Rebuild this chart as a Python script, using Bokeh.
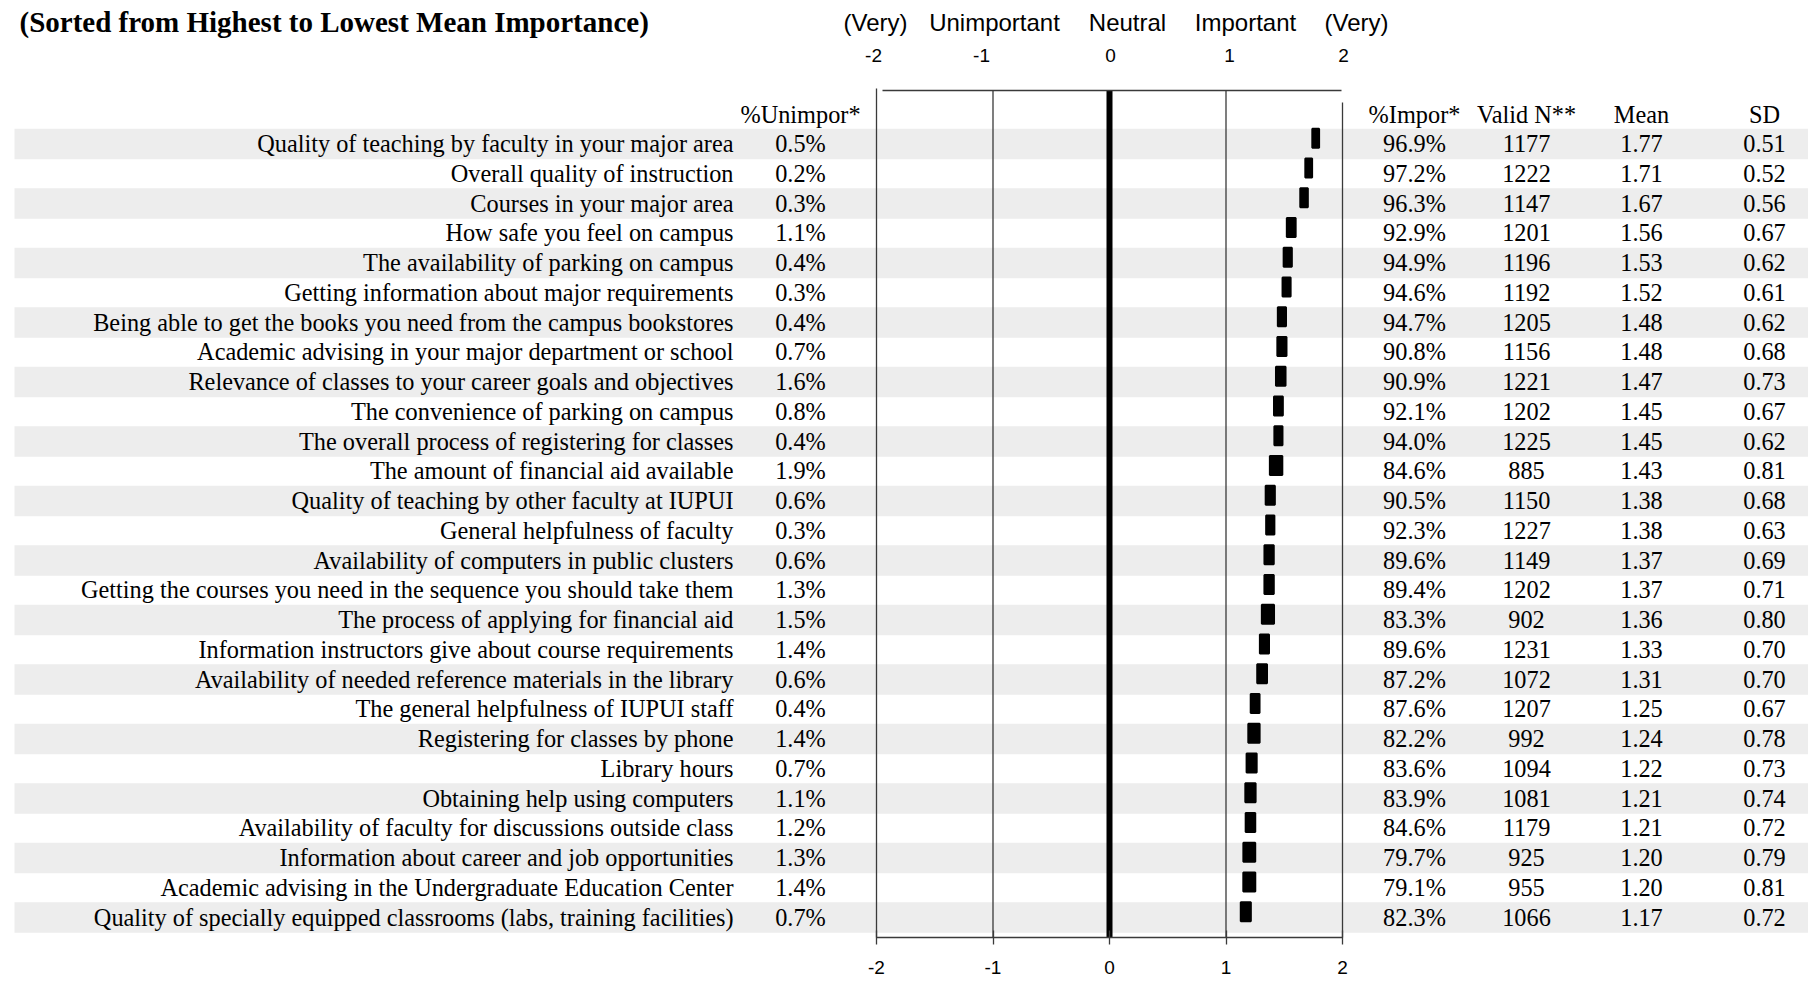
import numpy as np
from bokeh.plotting import figure
from bokeh.models import Range1d, LinearAxis, FixedTicker
from bokeh.core.properties import value
from bokeh.embed import file_html
from bokeh.resources import INLINE

# ---------------- data ----------------
title_text = "(Sorted from Highest to Lowest Mean Importance)"

items = [
    "Quality of teaching by faculty in your major area",
    "Overall quality of instruction",
    "Courses in your major area",
    "How safe you feel on campus",
    "The availability of parking on campus",
    "Getting information about major requirements",
    "Being able to get the books you need from the campus bookstores",
    "Academic advising in your major department or school",
    "Relevance of classes to your career goals and objectives",
    "The convenience of parking on campus",
    "The overall process of registering for classes",
    "The amount of financial aid available",
    "Quality of teaching by other faculty at IUPUI",
    "General helpfulness of faculty",
    "Availability of computers in public clusters",
    "Getting the courses you need in the sequence you should take them",
    "The process of applying for financial aid",
    "Information instructors give about course requirements",
    "Availability of needed reference materials in the library",
    "The general helpfulness of IUPUI staff",
    "Registering for classes by phone",
    "Library hours",
    "Obtaining help using computers",
    "Availability of faculty for discussions outside class",
    "Information about career and job opportunities",
    "Academic advising in the Undergraduate Education Center",
    "Quality of specially equipped classrooms (labs, training facilities)",
]
pct_unimportant = [0.5, 0.2, 0.3, 1.1, 0.4, 0.3, 0.4, 0.7, 1.6, 0.8, 0.4, 1.9, 0.6, 0.3,
                   0.6, 1.3, 1.5, 1.4, 0.6, 0.4, 1.4, 0.7, 1.1, 1.2, 1.3, 1.4, 0.7]
pct_important = [96.9, 97.2, 96.3, 92.9, 94.9, 94.6, 94.7, 90.8, 90.9, 92.1, 94.0, 84.6, 90.5, 92.3,
                 89.6, 89.4, 83.3, 89.6, 87.2, 87.6, 82.2, 83.6, 83.9, 84.6, 79.7, 79.1, 82.3]
valid_n = [1177, 1222, 1147, 1201, 1196, 1192, 1205, 1156, 1221, 1202, 1225, 885, 1150, 1227,
           1149, 1202, 902, 1231, 1072, 1207, 992, 1094, 1081, 1179, 925, 955, 1066]
means = [1.77, 1.71, 1.67, 1.56, 1.53, 1.52, 1.48, 1.48, 1.47, 1.45, 1.45, 1.43, 1.38, 1.38,
         1.37, 1.37, 1.36, 1.33, 1.31, 1.25, 1.24, 1.22, 1.21, 1.21, 1.20, 1.20, 1.17]
sds = [0.51, 0.52, 0.56, 0.67, 0.62, 0.61, 0.62, 0.68, 0.73, 0.67, 0.62, 0.81, 0.68, 0.63,
       0.69, 0.71, 0.80, 0.70, 0.70, 0.67, 0.78, 0.73, 0.74, 0.72, 0.79, 0.81, 0.72]

scale_ticks = [-2, -1, 0, 1, 2]
scale_tick_labels = ["-2", "-1", "0", "1", "2"]
scale_words = ["(Very)", "Unimportant", "Neutral", "Important", "(Very)"]
col_headers = ["%Unimpor*", "%Impor*", "Valid N**", "Mean", "SD"]

# ---------------- layout (page pixels -> data units) ----------------
W, H = 1808, 982
AXIS_Y = 937               # page y of the bottom scale axis line
AX_H = H - AXIS_Y
X0, XS = 1109.0, 116.5     # page x of scale 0, pixels per scale unit
Y0, YS = 143.0, 29.75      # page y of first row, pixels per row


def px(P):
    return (P - X0) / XS


def py(P):
    return (P - Y0) / YS


SERIF = "Liberation Serif"
SANS = "Liberation Sans"
LINE_C = "#3a3a3a"

p = figure(width=W, height=H, output_backend="svg", toolbar_location=None,
           x_range=Range1d(px(0), px(W)),
           y_range=Range1d(py(AXIS_Y), py(0)),
           x_axis_type=None, y_axis_type=None, min_border=0)
p.min_border_bottom = AX_H
p.outline_line_color = None
p.background_fill_color = "white"
p.border_fill_color = "white"

rows = np.arange(len(items))
means_a = np.array(means)
half = 1.96 * np.array(sds) / np.sqrt(np.array(valid_n))

# alternating stippled row bands
shade = rows[::2]
p.quad(left=px(14), right=px(W), top=shade - 0.5, bottom=shade + 0.53,
       fill_color="#ededed", line_color=None)

# frame / grid lines of the scale
tops = [py(88), py(90), py(90), py(90), py(102)]
widths = [1.3, 1.3, 6, 1.3, 1.3]
for t, top, lw in zip(scale_ticks, tops, widths):
    p.segment(x0=[t], y0=[top], x1=[t], y1=[py(960)],
              line_color=LINE_C if lw < 3 else "black", line_width=lw)
p.segment(x0=[px(882)], y0=[py(90)], x1=[px(1341)], y1=[py(90)], line_color=LINE_C, line_width=1.3)

# mean bars (95% CI around the mean)
p.quad(left=means_a - half, right=means_a + half, top=rows - 0.5, bottom=rows + 0.14,
       fill_color="black", line_color="black", line_width=2)

serif = value(SERIF)
sans = value(SANS)
FS = "24.3px"

# title
p.text(x=[px(19)], y=[py(21)], text=[title_text], text_font=serif, text_font_style="bold",
       text_font_size="29px", text_align="left", text_baseline="middle", text_color="black")

# scale words and top tick labels
word_x = [px(875), px(994), px(1127), px(1245), px(1356)]
p.text(x=word_x, y=[py(22)] * 5, text=scale_words, text_font=sans, text_font_size="24px",
       text_align="center", text_baseline="middle", text_color="black")
top_tick_x = [px(873), px(981), px(1110), px(1229), px(1343)]
p.text(x=top_tick_x, y=[py(55)] * 5, text=scale_tick_labels, text_font=sans, text_font_size="19px",
       text_align="center", text_baseline="middle", text_color="black")

# column headers
hdr_x = [px(800), px(1414), px(1526), px(1641), px(1764)]
p.text(x=hdr_x, y=[py(114)] * 5, text=col_headers, text_font=serif, text_font_size=FS,
       text_align="center", text_baseline="middle", text_color="black")

# row labels and table values
p.text(x=px(733), y=rows, text=items, text_font=serif, text_font_size=FS,
       text_align="right", text_baseline="middle", text_color="black")
cols = [
    [f"{v:.1f}%" for v in pct_unimportant],
    [f"{v:.1f}%" for v in pct_important],
    [f"{v}" for v in valid_n],
    [f"{v:.2f}" for v in means],
    [f"{v:.2f}" for v in sds],
]
for cx, txt in zip(hdr_x, cols):
    p.text(x=cx, y=rows, text=txt, text_font=serif, text_font_size=FS,
           text_align="center", text_baseline="middle", text_color="black")

# bottom scale axis
ax = LinearAxis(ticker=FixedTicker(ticks=scale_ticks), bounds=(-2, 2),
                major_label_overrides={t: l for t, l in zip(scale_ticks, scale_tick_labels)})
ax.major_tick_in = 7
ax.major_tick_out = 7
ax.minor_tick_line_color = None
ax.axis_line_color = LINE_C
ax.axis_line_width = 1.3
ax.major_tick_line_color = LINE_C
ax.major_tick_line_width = 1.3
ax.major_label_text_font = SANS
ax.major_label_text_font_size = "19px"
ax.major_label_text_color = "black"
ax.major_label_standoff = 16
p.add_layout(ax, "below")

open("out.html", "w").write(file_html(p, INLINE))
